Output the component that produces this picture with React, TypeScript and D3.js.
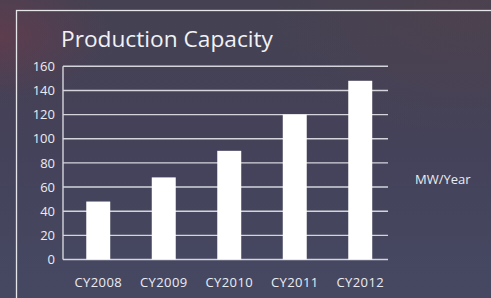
import { useEffect, useRef } from 'react'
import * as d3 from 'd3'

const years = ['CY2008', 'CY2009', 'CY2010', 'CY2011', 'CY2012']
const capacity = [48, 68, 90, 120, 148]
const yTicks = [0, 20, 40, 60, 80, 100, 120, 140, 160]
const title = 'Production Capacity'
const unitLabel = 'MW/Year'

export default function App() {
  const svgRef = useRef<SVGSVGElement>(null)

  useEffect(() => {
    if (!svgRef.current) return
    const width = 491
    const height = 298
    const font = '"Open Sans", "Noto Sans", sans-serif'

    const svg = d3.select(svgRef.current)
    svg.selectAll('*').remove()
    svg.attr('width', width).attr('height', height)

    // background
    const defs = svg.append('defs')
    const bg = defs.append('linearGradient').attr('id', 'bg').attr('x1', 0).attr('y1', 0).attr('x2', 0).attr('y2', 1)
    bg.append('stop').attr('offset', '0%').attr('stop-color', '#454152')
    bg.append('stop').attr('offset', '50%').attr('stop-color', '#44425a')
    bg.append('stop').attr('offset', '100%').attr('stop-color', '#464862')
    const red = defs.append('radialGradient').attr('id', 'red').attr('cx', 0.0).attr('cy', 0.12).attr('r', 0.22)
    red.append('stop').attr('offset', '0%').attr('stop-color', '#6e3a4a').attr('stop-opacity', 0.6)
    red.append('stop').attr('offset', '100%').attr('stop-color', '#6e3a4a').attr('stop-opacity', 0)
    const warm = defs.append('radialGradient').attr('id', 'warm').attr('cx', 0.95).attr('cy', 0.05).attr('r', 0.4)
    warm.append('stop').attr('offset', '0%').attr('stop-color', '#54414a').attr('stop-opacity', 0.5)
    warm.append('stop').attr('offset', '100%').attr('stop-color', '#54414a').attr('stop-opacity', 0)

    svg.append('rect').attr('width', width).attr('height', height).attr('fill', 'url(#bg)')
    svg.append('rect').attr('width', width).attr('height', height).attr('fill', 'url(#red)')
    svg.append('rect').attr('width', width).attr('height', height).attr('fill', 'url(#warm)')

    // frame
    svg.append('rect').attr('x', 16.5).attr('y', 10.5).attr('width', 520).attr('height', 320)
      .attr('fill', 'none').attr('stroke', '#e6e6ea').attr('stroke-width', 1.3)

    const plotLeft = 63
    const plotRight = 388
    const y = d3.scaleLinear().domain([0, 160]).range([259.5, 66.3])
    const x = d3.scaleBand<string>().domain(years).range([65.5, 393]).paddingInner(0.634).paddingOuter(0.317)

    // gridlines
    svg.append('g').selectAll('line').data(yTicks).enter().append('line')
      .attr('x1', plotLeft).attr('x2', plotRight)
      .attr('y1', d => y(d)).attr('y2', d => y(d))
      .attr('stroke', '#d4d4dc').attr('stroke-width', 1.4)

    // left axis line
    svg.append('line').attr('x1', plotLeft).attr('x2', plotLeft).attr('y1', y(160)).attr('y2', y(0))
      .attr('stroke', '#d4d4dc').attr('stroke-width', 1.4)

    // y tick labels
    svg.append('g').selectAll('text').data(yTicks).enter().append('text')
      .attr('x', 55).attr('y', d => y(d)).attr('dy', '0.36em')
      .attr('text-anchor', 'end').attr('fill', '#ececf0').attr('font-family', font).attr('font-size', '13px')
      .text(d => d)

    // bars
    svg.append('g').selectAll('rect').data(capacity).enter().append('rect')
      .attr('x', (_, i) => x(years[i])!).attr('width', x.bandwidth())
      .attr('y', d => y(d)).attr('height', d => y(0) - y(d))
      .attr('fill', '#ffffff')

    // x labels
    svg.append('g').selectAll('text').data(years).enter().append('text')
      .attr('x', d => x(d)! + x.bandwidth() / 2).attr('y', 287)
      .attr('text-anchor', 'middle').attr('fill', '#ececf0').attr('font-family', font).attr('font-size', '13px')
      .attr('letter-spacing', '0.4px')
      .text(d => d)

    // title
    svg.append('text').attr('x', 61).attr('y', 47).attr('fill', '#f2f2f5')
      .attr('font-family', font).attr('font-size', '22.7px').text(title)

    // unit label
    svg.append('text').attr('x', 415).attr('y', 184).attr('fill', '#ececf0')
      .attr('font-family', font).attr('font-size', '13px').text(unitLabel)
  }, [])

  return <svg ref={svgRef} style={{ position: 'absolute', left: 0, top: 0, display: 'block' }} />
}
